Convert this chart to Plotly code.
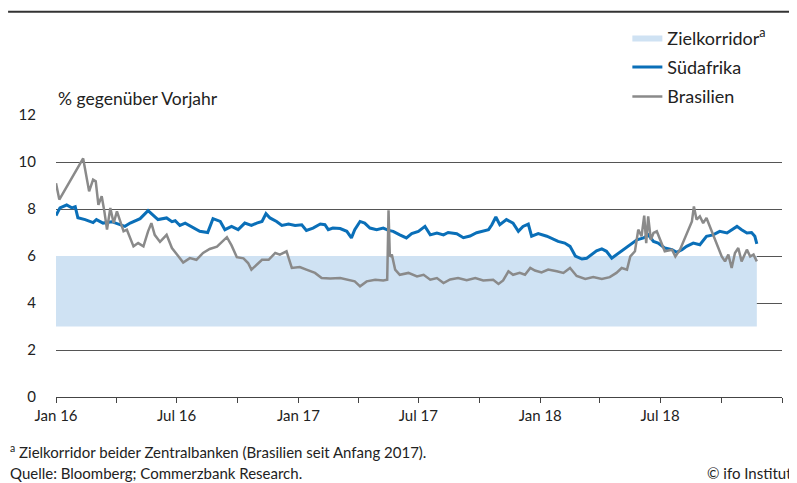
import plotly.graph_objects as go

# Südafrika, Inflationserwartung in % gg. Vorjahr
sa_dates = [
    "2016-01-01", "2016-01-07", "2016-01-17", "2016-01-25", "2016-01-30", "2016-02-03", "2016-02-14",
    "2016-02-26", "2016-03-02", "2016-03-12", "2016-03-25", "2016-04-02", "2016-04-14", "2016-04-22",
    "2016-05-07", "2016-05-19", "2016-05-26", "2016-06-03", "2016-06-16", "2016-06-24", "2016-06-29",
    "2016-07-06", "2016-07-14", "2016-07-26", "2016-08-05", "2016-08-17", "2016-08-25", "2016-09-05",
    "2016-09-12", "2016-09-22", "2016-10-02", "2016-10-12", "2016-10-22", "2016-10-30", "2016-11-07",
    "2016-11-13", "2016-11-19", "2016-11-29", "2016-12-07", "2016-12-17", "2016-12-27", "2017-01-06",
    "2017-01-13", "2017-01-23", "2017-02-03", "2017-02-10", "2017-02-15", "2017-02-22", "2017-03-05",
    "2017-03-15", "2017-03-22", "2017-03-27", "2017-04-04", "2017-04-11", "2017-04-19", "2017-04-29",
    "2017-05-09", "2017-05-17", "2017-05-24", "2017-06-03", "2017-06-13", "2017-06-21", "2017-07-01",
    "2017-07-11", "2017-07-19", "2017-07-29", "2017-08-08", "2017-08-15", "2017-08-28", "2017-09-07",
    "2017-09-17", "2017-09-27", "2017-10-07", "2017-10-15", "2017-10-20", "2017-10-26", "2017-11-01",
    "2017-11-11", "2017-11-21", "2017-11-29", "2017-12-06", "2017-12-14", "2017-12-19", "2017-12-29",
    "2018-01-11", "2018-01-21", "2018-01-28", "2018-02-07", "2018-02-15", "2018-02-23", "2018-03-05",
    "2018-03-12", "2018-03-20", "2018-03-27", "2018-04-04", "2018-04-11", "2018-04-19", "2018-04-26",
    "2018-05-06", "2018-05-17", "2018-05-27", "2018-06-06", "2018-06-13", "2018-06-21", "2018-06-28",
    "2018-07-08", "2018-07-19", "2018-07-26", "2018-08-03", "2018-08-10", "2018-08-20", "2018-08-30",
    "2018-09-09", "2018-09-19", "2018-09-29", "2018-10-10", "2018-10-17", "2018-10-25", "2018-11-01",
    "2018-11-09", "2018-11-16", "2018-11-21", "2018-11-24",
]
sa_values = [
    7.72, 8.05, 8.17, 8.05, 8.10, 7.63, 7.55,
    7.42, 7.55, 7.40, 7.46, 7.38, 7.26, 7.40,
    7.59, 7.93, 7.76, 7.55, 7.62, 7.46, 7.50,
    7.30, 7.40, 7.20, 7.05, 7.00, 7.59, 7.47,
    7.12, 7.26, 7.12, 7.40, 7.30, 7.40, 7.47,
    7.80, 7.62, 7.47, 7.30, 7.36, 7.30, 7.33,
    7.09, 7.19, 7.36, 7.33, 7.12, 7.19, 7.17,
    7.05, 6.77, 7.12, 7.47, 7.40, 7.19, 7.12,
    7.19, 7.09, 7.05, 6.90, 6.77, 6.95, 7.05,
    7.26, 6.90, 6.98, 6.90, 7.00, 6.95, 6.78,
    6.85, 6.99, 7.05, 7.12, 7.33, 7.66, 7.33,
    7.55, 7.40, 7.05, 7.26, 7.36, 6.84, 6.95,
    6.84, 6.70, 6.62, 6.55, 6.41, 6.00, 5.87,
    5.90, 6.06, 6.22, 6.30, 6.20, 5.91, 6.06,
    6.27, 6.48, 6.69, 6.77, 6.90, 6.62, 6.55,
    6.34, 6.27, 6.16, 6.27, 6.41, 6.55, 6.48,
    6.84, 6.90, 7.05, 6.98, 7.12, 7.26, 7.12,
    6.98, 7.00, 6.84, 6.52,
]

# Brasilien
br_dates = [
    "2016-01-01", "2016-01-06", "2016-02-11", "2016-02-20", "2016-02-26", "2016-03-01", "2016-03-05",
    "2016-03-10", "2016-03-14", "2016-03-18", "2016-03-23", "2016-03-28", "2016-04-02", "2016-04-07",
    "2016-04-12", "2016-04-17", "2016-04-27", "2016-05-04", "2016-05-12", "2016-05-19", "2016-05-24",
    "2016-05-29", "2016-06-06", "2016-06-16", "2016-06-24", "2016-07-04", "2016-07-11", "2016-07-21",
    "2016-07-31", "2016-08-10", "2016-08-20", "2016-08-31", "2016-09-10", "2016-09-15", "2016-09-22",
    "2016-09-30", "2016-10-10", "2016-10-17", "2016-10-22", "2016-10-30", "2016-11-07", "2016-11-17",
    "2016-11-27", "2016-12-04", "2016-12-14", "2016-12-22", "2017-01-03", "2017-01-13", "2017-01-26",
    "2017-02-05", "2017-02-18", "2017-03-05", "2017-03-17", "2017-03-27", "2017-04-04", "2017-04-14",
    "2017-04-27", "2017-05-09", "2017-05-15", "2017-05-17", "2017-05-19", "2017-05-22", "2017-05-27",
    "2017-06-03", "2017-06-16", "2017-06-29", "2017-07-09", "2017-07-19", "2017-07-29", "2017-08-08",
    "2017-08-18", "2017-08-30", "2017-09-12", "2017-09-25", "2017-10-07", "2017-10-22", "2017-10-30",
    "2017-11-06", "2017-11-14", "2017-11-21", "2017-12-01", "2017-12-09", "2017-12-17", "2017-12-24",
    "2018-01-03", "2018-01-13", "2018-01-26", "2018-02-05", "2018-02-15", "2018-02-25", "2018-03-10",
    "2018-03-22", "2018-04-04", "2018-04-16", "2018-04-26", "2018-05-04", "2018-05-12", "2018-05-17",
    "2018-05-24", "2018-05-29", "2018-06-03", "2018-06-07", "2018-06-10", "2018-06-13", "2018-06-17",
    "2018-06-21", "2018-06-26", "2018-07-01", "2018-07-08", "2018-07-19", "2018-07-24", "2018-07-31",
    "2018-08-10", "2018-08-18", "2018-08-21", "2018-08-25", "2018-08-30", "2018-09-04", "2018-09-09",
    "2018-09-14", "2018-09-19", "2018-09-24", "2018-10-02", "2018-10-07", "2018-10-12", "2018-10-17",
    "2018-10-22", "2018-10-27", "2018-11-01", "2018-11-09", "2018-11-14", "2018-11-19", "2018-11-24",
]
br_values = [
    9.10, 8.40, 10.15, 8.75, 9.25, 9.18, 8.18,
    8.54, 7.90, 7.12, 8.04, 7.40, 7.90, 7.47,
    7.05, 7.12, 6.41, 6.55, 6.41, 7.05, 7.40,
    6.90, 6.60, 6.90, 6.34, 5.98, 5.72, 5.91,
    5.84, 6.13, 6.30, 6.40, 6.69, 6.80, 6.45,
    5.95, 5.90, 5.70, 5.42, 5.65, 5.84, 5.84,
    6.13, 6.06, 6.20, 5.49, 5.53, 5.42, 5.28,
    5.06, 5.04, 5.06, 4.99, 4.92, 4.71, 4.92,
    4.99, 4.96, 4.99, 7.95, 5.98, 6.06, 5.42,
    5.20, 5.28, 5.13, 5.20, 4.99, 5.06, 4.85,
    5.00, 5.06, 4.97, 5.06, 4.96, 4.99, 4.81,
    4.96, 5.35, 5.20, 5.28, 5.20, 5.49, 5.38,
    5.30, 5.42, 5.35, 5.28, 5.49, 5.15, 5.02,
    5.10, 5.02, 5.10, 5.28, 5.49, 5.42, 5.98,
    6.20, 7.12, 6.84, 7.72, 6.55, 7.69, 6.69,
    6.98, 7.05, 6.69, 6.20, 6.27, 5.98, 6.27,
    6.98, 7.47, 8.11, 7.55, 7.69, 7.40, 7.62,
    7.26, 6.98, 6.55, 5.98, 5.77, 6.06, 5.49,
    6.13, 6.34, 5.77, 6.27, 5.98, 6.06, 5.77,
]

# Zielkorridor (3-6 %)
band_dates = ["2016-01-01", "2018-11-24"]
band_low = [3, 3]
band_high = [6, 6]

# labelled ticks every half year, plain ticks every quarter
label_dates = ["2016-01-01", "2016-07-01", "2017-01-01", "2017-07-01", "2018-01-01", "2018-07-01"]
label_text = ["Jan 16", "Jul 16", "Jan 17", "Jul 17", "Jan 18", "Jul 18"]
quarter_dates = [
    "2016-04-01", "2016-10-01", "2017-04-01", "2017-10-01", "2018-04-01", "2018-10-01", "2019-01-01",
]

FONT = "Lato, Noto Sans, sans-serif"
TXT = "#222222"

fig = go.Figure()
fig.add_trace(go.Scatter(x=band_dates, y=band_low, mode="lines", line=dict(width=0),
                         showlegend=False, hoverinfo="skip"))
fig.add_trace(go.Scatter(x=band_dates, y=band_high, mode="lines", line=dict(width=0),
                         fill="tonexty", fillcolor="#cfe2f3", name="Zielkorridor<sup>a</sup>",
                         legendgroup="a"))
fig.add_trace(go.Scatter(x=sa_dates, y=sa_values, mode="lines", name="Südafrika",
                         line=dict(color="#0a6fb8", width=3), legendgroup="b"))
fig.add_trace(go.Scatter(x=br_dates, y=br_values, mode="lines", name="Brasilien",
                         line=dict(color="#8a8a8a", width=2.5), legendgroup="c"))

# the page body has an 8px margin, so the figure is drawn 8px smaller
fig.update_layout(
    width=789, height=475,
    margin=dict(l=48, r=15, t=107, b=86, autoexpand=False),
    paper_bgcolor="white", plot_bgcolor="white",
    font=dict(family=FONT, size=15, color=TXT),
    showlegend=True,
    legend=dict(xref="container", yref="container", x=0.785, y=0.976, xanchor="left", yanchor="top",
                bgcolor="rgba(0,0,0,0)", font=dict(size=18, color=TXT), tracegroupgap=3,
                traceorder="grouped"),
    xaxis=dict(type="date", range=["2016-01-01", "2019-01-01"], tickvals=label_dates,
               ticktext=label_text, ticks="outside", ticklen=5, tickcolor="#444",
               minor=dict(tickvals=quarter_dates, ticks="outside", ticklen=5, tickcolor="#444",
                          showgrid=False),
               showline=True, linecolor="#444", linewidth=1, showgrid=False, automargin=False,
               tickfont=dict(size=15, color=TXT), zeroline=False),
    yaxis=dict(range=[0, 12], tickvals=[0, 2, 4, 6, 8, 10, 12], showgrid=True, automargin=False,
               gridcolor="#555555", gridwidth=1, zeroline=False, showline=False,
               tickfont=dict(size=15, color=TXT), ticklabelstandoff=19),
)

fig.add_annotation(text="% gegenüber Vorjahr", xref="paper", yref="paper", x=0, y=1,
                   xanchor="left", yanchor="bottom", yshift=4, showarrow=False,
                   font=dict(size=17.5, color=TXT))
fig.add_annotation(text="<sup>a</sup> Zielkorridor beider Zentralbanken (Brasilien seit Anfang 2017).",
                   xref="paper", yref="paper", x=-0.066, y=-0.194, xanchor="left", yanchor="middle",
                   showarrow=False, font=dict(size=15, color=TXT))
fig.add_annotation(text="Quelle: Bloomberg; Commerzbank Research.",
                   xref="paper", yref="paper", x=-0.066, y=-0.268, xanchor="left", yanchor="middle",
                   showarrow=False, font=dict(size=15, color=TXT))
fig.add_annotation(text="© ifo Institut",
                   xref="paper", yref="paper", x=1.016, y=-0.268, xanchor="right", yanchor="middle",
                   showarrow=False, font=dict(size=15, color=TXT))
fig.add_shape(type="line", xref="paper", yref="paper", x0=-0.066, x1=1.02, y0=1.366, y1=1.366,
              line=dict(color="#333333", width=2))

fig.write_html("out.html")
